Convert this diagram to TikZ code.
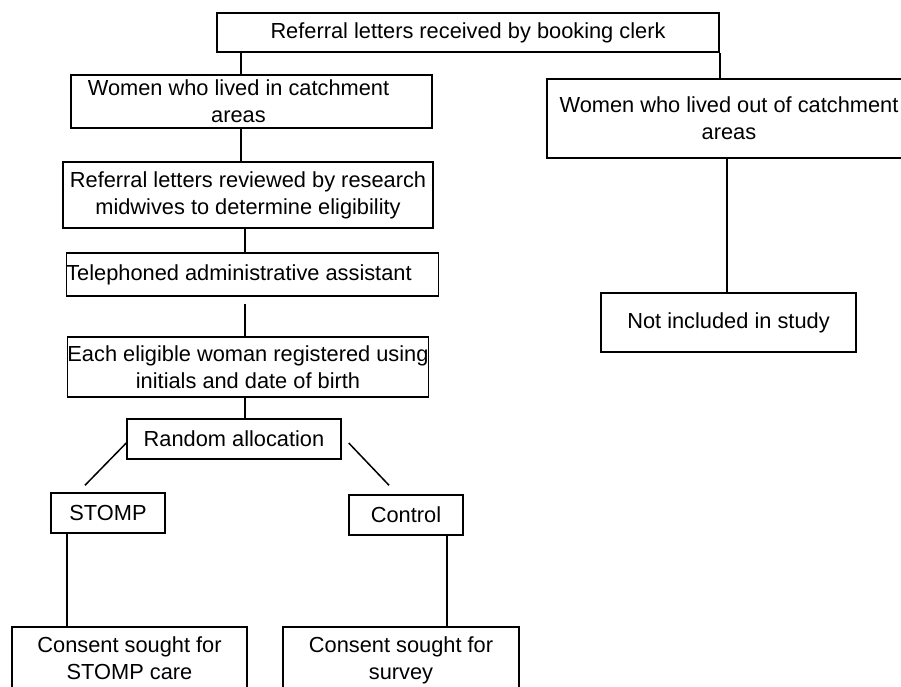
\documentclass[tikz,border=0pt]{standalone}
\usepackage{fontspec}
\setmainfont{Liberation Sans}
\begin{document}
\begin{tikzpicture}[x=1pt,y=-1pt,
  box/.style={draw, line width=1.5pt, inner sep=0pt, align=center,
    font=\fontsize{21.8}{27}\selectfont},
  link/.style={line width=1.5pt}]
\useasboundingbox (0,0) rectangle (901,686);
\fill[white] (0,0) rectangle (901,686);
\clip (0,0) rectangle (901,686);

\node[box, minimum width=502, minimum height=39] (top) at (468,32.5)
  {Referral letters received by booking clerk};
\node[box, minimum width=361, minimum height=53] (catch) at (251.5,101.5)
  {Women who lived in catchment\hspace*{26pt}\\areas\hspace*{26pt}};
\node[box, minimum width=364, minimum height=79] (outside) at (729,118.5)
  {Women who lived out of catchment\\areas};
\node[box, minimum width=370, minimum height=66] (rev) at (248,195)
  {Referral letters reviewed by research\\midwives to determine eligibility};
\node[box, minimum width=369, minimum height=43] (tel) at (252.5,274.5)
  {Telephoned administrative assistant\hspace*{27pt}};
\node[box, minimum width=360, minimum height=60] (elig) at (248,367)
  {Each eligible woman registered using\\initials and date of birth};
\node[box, minimum width=214, minimum height=40] (rand) at (234,439)
  {Random allocation};
\node[box, minimum width=114, minimum height=40] (stomp) at (108,513)
  {STOMP};
\node[box, minimum width=114, minimum height=40] (ctrl) at (406,515)
  {Control};
\node[box, minimum width=235, minimum height=66] (cstomp) at (129.5,660)
  {Consent sought for\\STOMP care\vphantom{y}};
\node[box, minimum width=236, minimum height=66] (csurv) at (401,660)
  {Consent sought for\\survey};
\node[box, minimum width=255, minimum height=59] (notinc) at (728.5,322.5)
  {Not included in study};

\draw[link] (top.south -| 241,0) -- (catch.north -| 241,0);
\draw[link] (top.south east) -- (top.south east |- outside.north);
\draw[link] (catch.south -| 241,0) -- (rev.north -| 241,0);
\draw[link] (rev.south -| 245,0) -- (tel.north -| 245,0);
\draw[link] ([yshift=-7pt]tel.south -| 245,0) -- (elig.north -| 245,0);
\draw[link] (elig.south -| 245,0) -- (rand.north -| 245,0);
\draw[link] ([yshift=-4pt]rand.west) -- ([xshift=-23pt,yshift=7pt]stomp.north);
\draw[link] ([xshift=7pt,yshift=-4pt]rand.east) -- ([xshift=-17pt,yshift=9pt]ctrl.north);
\draw[link] (stomp.south -| 67,0) -- (cstomp.north -| 67,0);
\draw[link] (ctrl.south -| 447,0) -- (csurv.north -| 447,0);
\draw[link] (outside.south -| 727,0) -- (notinc.north -| 727,0);
\end{tikzpicture}
\end{document}
